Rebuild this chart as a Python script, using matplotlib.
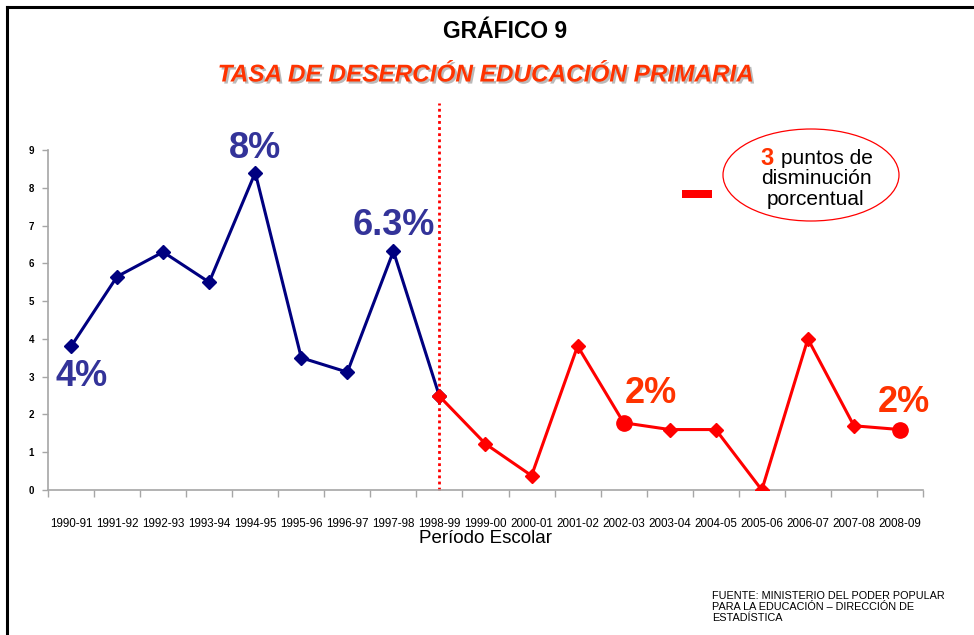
import matplotlib
matplotlib.use("Agg")
import matplotlib.pyplot as plt
from matplotlib.patches import Ellipse, Rectangle
from matplotlib.lines import Line2D
import matplotlib.patheffects as pe

periods = ["1990-91", "1991-92", "1992-93", "1993-94", "1994-95", "1995-96",
           "1996-97", "1997-98", "1998-99", "1999-00", "2000-01", "2001-02",
           "2002-03", "2003-04", "2004-05", "2005-06", "2006-07", "2007-08",
           "2008-09"]
tasa = [3.8, 5.65, 6.3, 5.5, 8.4, 3.5, 3.12, 6.32, 2.48, 1.22, 0.38, 3.81,
        1.78, 1.6, 1.6, 0.0, 4.0, 1.7, 1.6]
split_idx = 8          # 1998-99: change of period
highlight_idx = [12, 18]
pct_labels = ["4%", "8%", "6.3%", "2%", "2%"]
pct_idx = [0, 4, 7, 12, 18]
yticks = list(range(0, 10))

NAVY = "#000080"
RED = "#FF0000"
ORANGE = "#FF3300"
LBLUE = "#333399"
GRID = "#A6A6A6"

plt.rcParams['font.family'] = ['Liberation Sans', 'DejaVu Sans']

fig = plt.figure(figsize=(9.74, 6.35), dpi=100)
ax = fig.add_axes([48/974, 1-490/635, (923-48)/974, (490-150)/635])

x = list(range(len(periods)))
ax.plot(x[:split_idx+1], tasa[:split_idx+1], color=NAVY, lw=2.2, marker='D',
        ms=7, mfc=NAVY, mec=NAVY, zorder=3)
ax.plot(x[split_idx:], tasa[split_idx:], color=RED, lw=2.2, marker='D',
        ms=7, mfc=RED, mec=RED, zorder=4)
ax.plot([x[i] for i in highlight_idx], [tasa[i] for i in highlight_idx],
        ls='none', marker='o', ms=11, color=RED, zorder=5)

ax.axvline(x[split_idx], ymin=0, ymax=10.25/9, color=RED, lw=2.0,
           ls=(0, (1, 1.2)), clip_on=False, zorder=2)

ax.set_xlim(-0.5, len(periods)-0.5)
ax.set_ylim(0, 9)
ax.set_yticks(yticks)
ax.set_yticklabels([str(v) for v in yticks], fontsize=7, fontweight='bold')
ax.set_xticks(x)
ax.set_xticklabels(periods, fontsize=8.4)
ax.set_xticks([i-0.5 for i in range(len(periods)+1)], minor=True)
ax.tick_params(axis='x', which='major', length=0, pad=20)
ax.tick_params(axis='x', which='minor', length=5, color=GRID, width=1)
ax.tick_params(axis='y', length=4, color=GRID, width=1, pad=6)
for s in ['top', 'right']:
    ax.spines[s].set_visible(False)
for s in ['left', 'bottom']:
    ax.spines[s].set_color(GRID)
    ax.spines[s].set_linewidth(1.2)
ax.set_xlabel("Período Escolar", fontsize=13.5, labelpad=0)

offsets = [(11, -30), (0, 24), (0, 26), (27, 29), (4, 27)]
for lab, i, off in zip(pct_labels, pct_idx, offsets):
    col = LBLUE if i < split_idx else ORANGE
    ax.annotate(lab, xy=(x[i], tasa[i]), xytext=off, textcoords='offset pixels',
                ha='center', va='center', fontsize=26, fontweight='bold',
                color=col, zorder=6)

# titles
fig.text(505/974, 1-32/635, "GRÁFICO 9", ha='center', va='center',
         fontsize=16.5, fontweight='bold', color='black')
fig.text(485/974, 1-75/635, "TASA DE DESERCIÓN EDUCACIÓN PRIMARIA",
         ha='center', va='center', fontsize=17.5, fontweight='bold',
         style='italic', color=ORANGE,
         path_effects=[pe.withSimplePatchShadow(offset=(1.5, -1.5),
                                                shadow_rgbFace='#777777', alpha=0.5)])

# ellipse callout
ell = Ellipse((8.11, 4.60), 1.76, 0.92, transform=fig.dpi_scale_trans,
              fill=False, ec=RED, lw=0.9)
fig.add_artist(ell)
dash = Rectangle((6.82, 4.37), 0.30, 0.085, transform=fig.dpi_scale_trans,
                 fc=RED, ec='none')
fig.add_artist(dash)
fig.text(767/974, 1-159/635, "3", ha='center', va='center', fontsize=17,
         fontweight='bold', color=ORANGE)
fig.text(827/974, 1-159/635, "puntos de", ha='center', va='center', fontsize=15,
         color='black')
fig.text(816/974, 1-179/635, "disminución", ha='center', va='center', fontsize=15,
         color='black')
fig.text(816/974, 1-199/635, "porcentual", ha='center', va='center', fontsize=15,
         color='black')

# source note
fig.text(712/974, 1-591/635,
         "FUENTE: MINISTERIO DEL PODER POPULAR\nPARA LA EDUCACIÓN – DIRECCIÓN DE\nESTADÍSTICA",
         ha='left', va='top', fontsize=7.8, linespacing=1.12, color='black')

# frame lines
fig.add_artist(Line2D([7/974, 1], [1-7/635, 1-7/635], color='black', lw=2.2,
                      transform=fig.transFigure))
fig.add_artist(Line2D([7/974, 7/974], [0, 1-7/635], color='black', lw=2.2,
                      transform=fig.transFigure))

fig.savefig("out.png", dpi=100)
